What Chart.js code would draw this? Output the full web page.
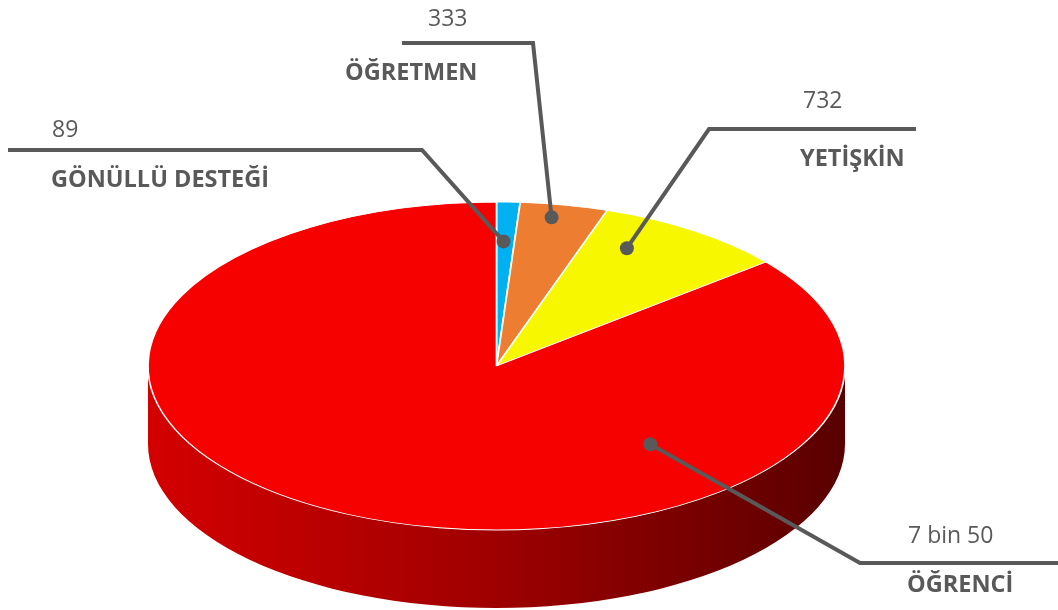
<!DOCTYPE html>
<html>
<head>
<meta charset="utf-8">
<script src="https://cdn.jsdelivr.net/npm/chart.js@4"></script>
<style>
  body { margin: 0; background: #fff; }
  #wrap { width: 1058px; height: 610px; position: relative; }
</style>
</head>
<body>
<div id="wrap"><canvas id="pieChart"></canvas></div>
<script>
const categories = ["GÖNÜLLÜ DESTEĞİ", "ÖĞRETMEN", "YETİŞKİN", "ÖĞRENCİ"];
const values = [89, 333, 732, 7050];
const valueLabels = ["89", "333", "732", "7 bin 50"];
const colors = ["#00b0f0", "#ed7d31", "#f7f700", "#f70000"];

// top face of the "3d" pie and its side depth
const ELL = { x: 496.5, y: 366, rx: 348.5, ry: 164, depth: 78 };

// label layout: where the dot sits inside its slice (t along the arc, r radial),
// the elbow of the leader line, the end of the line, and the text spots
const labelLayout = [
  { t: 0.39, r: 0.76, elbow: [422, 150], end: 8,    vx: 52,  vy: 137, cx: 51,  cy: 187 },
  { t: 0.41, r: 0.92, elbow: [533, 43],  end: 402,  vx: 428, vy: 26,  cx: 345, cy: 80 },
  { t: 0.28, r: 0.81, elbow: [709, 129], end: 916,  vx: 803, vy: 108, cx: 800, cy: 166 },
  { t: 0.28, r: 0.65, elbow: [860, 563], end: 1058, vx: 908, vy: 543, cx: 907, cy: 592 },
];

function shade(hex, f) {
  const n = parseInt(hex.slice(1), 16);
  const r = Math.round(((n >> 16) & 255) * f);
  const g = Math.round(((n >> 8) & 255) * f);
  const b = Math.round((n & 255) * f);
  return `rgb(${r},${g},${b})`;
}

const pie3d = {
  id: "pie3d",
  beforeDatasetsDraw(chart) {
    const ctx = chart.ctx;
    const meta = chart.getDatasetMeta(0);
    ctx.save();
    // side wall, only the front half (canvas angles 0..PI) is visible
    meta.data.forEach((arc, i) => {
      const a0 = Math.max(arc.startAngle, 0);
      const a1 = Math.min(arc.endAngle, Math.PI);
      if (a1 <= a0) return;
      const grad = ctx.createLinearGradient(ELL.x - ELL.rx, 0, ELL.x + ELL.rx, 0);
      grad.addColorStop(0, shade(colors[i], 0.86));
      grad.addColorStop(0.5, shade(colors[i], 0.64));
      grad.addColorStop(1, shade(colors[i], 0.36));
      ctx.beginPath();
      ctx.ellipse(ELL.x, ELL.y, ELL.rx, ELL.ry, 0, a0, a1, false);
      ctx.ellipse(ELL.x, ELL.y + ELL.depth, ELL.rx, ELL.ry, 0, a1, a0, true);
      ctx.closePath();
      ctx.fillStyle = grad;
      ctx.fill();
    });
    // squash the circle into the top ellipse
    const a = meta.data[0];
    const R = a.outerRadius;
    ctx.translate(ELL.x, ELL.y);
    ctx.scale(ELL.rx / R, ELL.ry / R);
    ctx.translate(-a.x, -a.y);
  },
  afterDatasetsDraw(chart) {
    chart.ctx.restore();
  },
  afterDraw(chart) {
    const ctx = chart.ctx;
    const meta = chart.getDatasetMeta(0);
    ctx.save();
    meta.data.forEach((arc, i) => {
      const L = labelLayout[i];
      const ang = arc.startAngle + (arc.endAngle - arc.startAngle) * L.t;
      const px = ELL.x + ELL.rx * L.r * Math.cos(ang);
      const py = ELL.y + ELL.ry * L.r * Math.sin(ang);
      ctx.strokeStyle = "#595959";
      ctx.lineWidth = 4;
      ctx.lineJoin = "miter";
      ctx.beginPath();
      ctx.moveTo(px, py);
      ctx.lineTo(L.elbow[0], L.elbow[1]);
      ctx.lineTo(L.end, L.elbow[1]);
      ctx.stroke();
      ctx.fillStyle = "#595959";
      ctx.beginPath();
      ctx.arc(px, py, 7, 0, Math.PI * 2);
      ctx.fill();

      ctx.textAlign = "left";
      ctx.textBaseline = "alphabetic";
      ctx.fillStyle = "#595959";
      ctx.font = "23px 'Open Sans'";
      ctx.fillText(valueLabels[i], L.vx, L.vy);
      ctx.font = "bold 23.5px 'Open Sans'";
      ctx.fillText(categories[i], L.cx, L.cy);
    });
    ctx.restore();
  }
};

new Chart(document.getElementById("pieChart"), {
  type: "pie",
  data: {
    labels: categories,
    datasets: [{
      data: values,
      backgroundColor: colors,
      borderColor: "#ffffff",
      borderWidth: 1.5,
    }],
  },
  options: {
    responsive: true,
    maintainAspectRatio: false,
    animation: false,
    events: [],
    plugins: {
      legend: { display: false },
      tooltip: { enabled: false },
    },
  },
  plugins: [pie3d],
});
</script>
</body>
</html>
